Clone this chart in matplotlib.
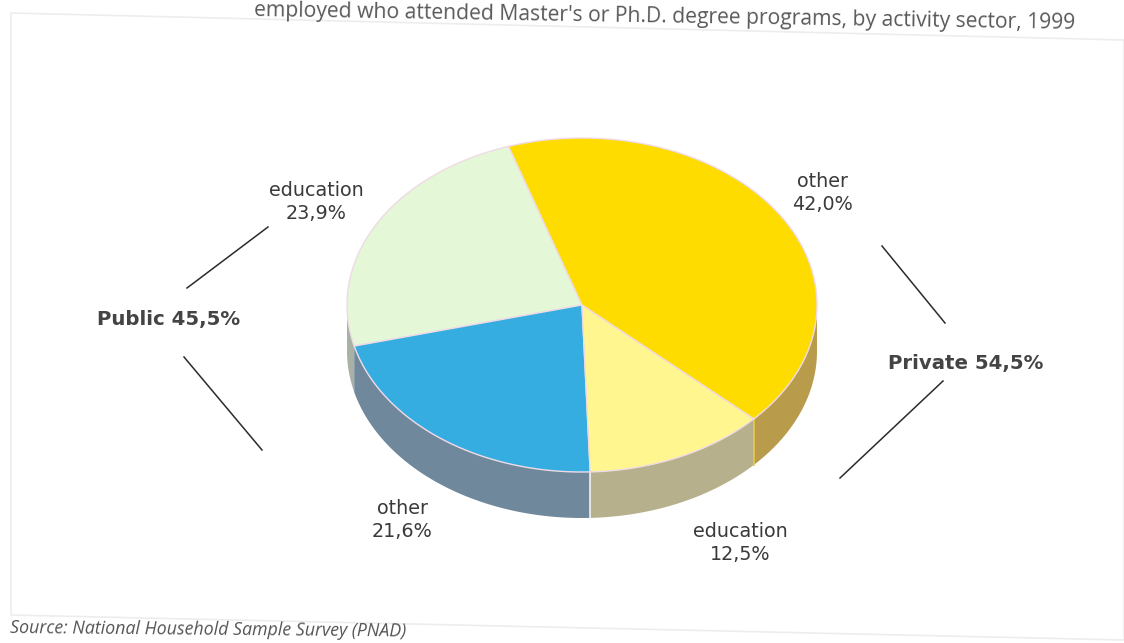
import numpy as np
import matplotlib
matplotlib.use("Agg")
import matplotlib.pyplot as plt
from matplotlib.patches import Polygon

# Employed with Master's / Ph.D. attendance, by activity sector (1999)
labels = ["education", "other", "education", "other"]
values = [23.9, 21.6, 12.5, 42.0]          # public edu, public other, private edu, private other
top_colors = ["#e4f7d6", "#35ade0", "#fff68f", "#ffdc00"]
side_colors = ["#a9b0a4", "#6f889c", "#b6b18c", "#b99b4c"]
groups = ["Public", "Private"]
group_values = [45.5, 54.5]

title = "employed who attended Master's or Ph.D. degree programs, by activity sector, 1999"
source = "Source: National Household Sample Survey (PNAD)"

# ellipse geometry (pixel space, y down)
cx, cy = 582, 305
a, b = 235, 167
depth = 46
start = 108.2

fig = plt.figure(figsize=(11.24, 6.43), dpi=100, facecolor="white")
ax = fig.add_axes([0, 0, 1, 1])
ax.set_xlim(0, 1124)
ax.set_ylim(643, 0)
ax.axis("off")


def arc(t0, t1, dy=0, n=120):
    t = np.radians(np.linspace(t0, t1, n))
    return np.column_stack([cx + a * np.cos(t), cy + dy - b * np.sin(t)])


def pct(v):
    return f"{v:.1f}%".replace(".", ",")


# faint frame around the chart
frame = np.array([[11, 13], [1124, 40], [1124, 640], [11, 615]])
ax.add_patch(Polygon(frame, closed=True, fill=False, ec="#ededed", lw=1.2))

angles = start + np.concatenate([[0], np.cumsum(values)]) * 3.6

# side walls (front half only: 180..360 deg)
for i in range(len(values)):
    t0, t1 = angles[i], angles[i + 1]
    for off in (0, 360):
        s0, s1 = max(t0, 180 + off), min(t1, 360 + off)
        if s1 <= s0:
            continue
        upper = arc(s0, s1)
        lower = arc(s1, s0, dy=depth)
        ax.add_patch(Polygon(np.vstack([upper, lower]), closed=True,
                             fc=side_colors[i], ec="none", zorder=2))

# seams on the wall
for t, c in [(angles[2], "#f2eef0"), (angles[3], "#e8c84a")]:
    p = arc(t, t, n=1)[0]
    ax.plot([p[0], p[0]], [p[1], p[1] + depth], color=c, lw=1.2, zorder=3)

# top face
for i in range(len(values)):
    pts = np.vstack([[cx, cy], arc(angles[i], angles[i + 1])])
    ax.add_patch(Polygon(pts, closed=True, fc=top_colors[i],
                         ec="#efdbe6", lw=1.0, zorder=4))

# slice labels
txt = dict(ha="center", va="center", fontsize=13.8, color="#3a3a3a",
           family="DejaVu Sans", linespacing=1.3)
label_pos = [(316, 202), (402, 520), (740, 543), (822, 193)]
for (x, y), lab, v in zip(label_pos, labels, values):
    ax.text(x, y, f"{lab}\n{pct(v)}", **txt)

# sector group labels and brackets
ax.text(97, 320, f"{groups[0]} {pct(group_values[0])}", ha="left", va="center",
        fontsize=14.2, fontweight="bold", color="#444444")
ax.text(888, 363, f"{groups[1]} {pct(group_values[1])}", ha="left", va="center",
        fontsize=14.2, fontweight="bold", color="#444444")
for (x0, y0), (x1, y1) in [((187, 288), (268, 227)), ((184, 357), (262, 450)),
                           ((882, 246), (945, 323)), ((943, 381), (840, 478))]:
    ax.plot([x0, x1], [y0, y1], color="#2b2b2b", lw=1.1)

ax.text(1075, 29, title, ha="right", va="baseline", rotation=-0.9,
        rotation_mode="anchor", fontsize=15.2, color="#5a5a5a",
        family=["Open Sans", "DejaVu Sans"])
ax.text(10, 633, source, ha="left", va="baseline", rotation=-0.5,
        rotation_mode="anchor", fontsize=12.8, style="italic", color="#555555",
        family=["Open Sans", "DejaVu Sans"])

fig.savefig("out.png", dpi=100, facecolor="white")
